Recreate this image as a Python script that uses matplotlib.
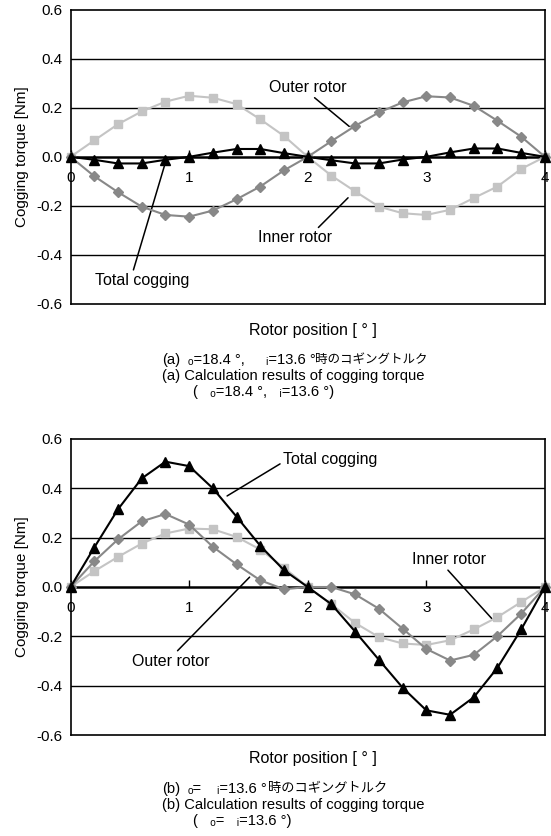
import matplotlib
matplotlib.use("Agg")
import matplotlib.pyplot as plt
import numpy as np

plt.rcParams['font.family'] = ['Liberation Sans', 'DejaVu Sans', 'Noto Sans CJK JP']

# rotor position [deg]
pos = [0.0, 0.2, 0.4, 0.6, 0.8, 1.0, 1.2, 1.4, 1.6, 1.8, 2.0,
       2.2, 2.4, 2.6, 2.8, 3.0, 3.2, 3.4, 3.6, 3.8, 4.0]

# (a) theta_o = 18.4, theta_i = 13.6
total_a = [0, -0.012, -0.027, -0.027, -0.012, 0, 0.017, 0.032, 0.032, 0.015, 0,
           -0.014, -0.027, -0.027, -0.011, 0, 0.018, 0.034, 0.034, 0.016, 0]
outer_a = [0, -0.079, -0.144, -0.203, -0.237, -0.244, -0.219, -0.173, -0.121, -0.055, 0,
           0.064, 0.126, 0.181, 0.222, 0.247, 0.242, 0.208, 0.147, 0.082, 0]
inner_a = [0, 0.067, 0.133, 0.185, 0.225, 0.249, 0.241, 0.215, 0.153, 0.085, 0,
           -0.077, -0.141, -0.203, -0.230, -0.237, -0.216, -0.168, -0.121, -0.049, 0]

# (b) theta_o = theta_i = 13.6
total_b = [0, 0.16, 0.315, 0.44, 0.508, 0.49, 0.40, 0.285, 0.167, 0.068, 0,
           -0.07, -0.181, -0.295, -0.408, -0.50, -0.518, -0.447, -0.327, -0.172, 0]
outer_b = [0, 0.104, 0.193, 0.266, 0.296, 0.253, 0.163, 0.092, 0.027, -0.009, 0,
           0.0, -0.03, -0.088, -0.169, -0.251, -0.298, -0.275, -0.199, -0.108, 0]
inner_b = [0, 0.064, 0.122, 0.176, 0.217, 0.237, 0.234, 0.203, 0.152, 0.078, 0,
           -0.07, -0.146, -0.203, -0.229, -0.235, -0.216, -0.172, -0.122, -0.061, 0]

yticks = [-0.6, -0.4, -0.2, 0.0, 0.2, 0.4, 0.6]
ytick_labels = ["-0.6", "-0.4", "-0.2", "0.0", "0.2", "0.4", "0.6"]
xticks = [0, 1, 2, 3, 4]

INNER_C = "#c4c4c4"
OUTER_C = "#888888"
FS = 11


def draw_panel(ax, total, outer, inner):
    ax.set_xlim(0, 4)
    ax.set_ylim(-0.6, 0.6)
    for s in ax.spines.values():
        s.set_color("black")
        s.set_linewidth(1.2)
    # x axis crosses at zero, frame bottom drawn separately
    ax.spines["bottom"].set_position(("data", 0))
    ax.spines["bottom"].set_linewidth(1.8)
    ax.plot([0, 1], [0, 0], transform=ax.transAxes, color="black", lw=1.2,
            clip_on=False, zorder=6)
    for v in [-0.4, -0.2, 0.2, 0.4]:
        ax.axhline(v, color="black", lw=1.0, zorder=1)
    ax.set_yticks(yticks)
    ax.set_yticklabels(ytick_labels, fontsize=FS)
    ax.tick_params(axis="y", length=0, pad=6)
    ax.set_xticks(xticks)
    ax.set_xticklabels([str(t) for t in xticks], fontsize=FS)
    ax.tick_params(axis="x", direction="in", length=5, width=1.0, pad=10)
    ax.plot(pos, inner, color=INNER_C, lw=1.5, marker="s", ms=5.5,
            mec=INNER_C, mfc=INNER_C, zorder=3, clip_on=False)
    ax.plot(pos, outer, color=OUTER_C, lw=1.5, marker="D", ms=5.0,
            mec=OUTER_C, mfc=OUTER_C, zorder=4, clip_on=False)
    ax.plot(pos, total, color="black", lw=1.5, marker="^", ms=7.5,
            mec="black", mfc="black", zorder=5, clip_on=False)
    ax.set_ylabel("Cogging torque [Nm]", fontsize=FS, labelpad=5)


fig = plt.figure(figsize=(5.51, 8.36), dpi=100)
ax1 = fig.add_axes([0.128, 0.6364, 0.861, 0.352])
ax2 = fig.add_axes([0.128, 0.1208, 0.861, 0.3541])

draw_panel(ax1, total_a, outer_a, inner_a)
draw_panel(ax2, total_b, outer_b, inner_b)

AFS = 11.5
line = dict(arrowstyle="-", color="black", lw=1.1, shrinkA=0, shrinkB=0)

# annotations (a)
ax1.annotate("Outer rotor", xy=(2.35, 0.124), xytext=(1.67, 0.283),
             fontsize=AFS, ha="left", va="center",
             arrowprops=dict(line, relpos=(0.55, 0.0)))
ax1.annotate("Inner rotor", xy=(2.34, -0.167), xytext=(1.58, -0.33),
             fontsize=AFS, ha="left", va="center",
             arrowprops=dict(line, relpos=(0.78, 1.0)))
ax1.annotate("Total cogging", xy=(0.81, -0.007), xytext=(0.205, -0.503),
             fontsize=AFS, ha="left", va="center",
             arrowprops=dict(line, relpos=(0.4, 1.0)))

# annotations (b)
ax2.annotate("Total cogging", xy=(1.32, 0.369), xytext=(1.79, 0.515),
             fontsize=AFS, ha="left", va="center",
             arrowprops=dict(line, relpos=(0.0, 0.35)))
ax2.annotate("Inner rotor", xy=(3.55, -0.127), xytext=(2.88, 0.11),
             fontsize=AFS, ha="left", va="center",
             arrowprops=dict(line, relpos=(0.45, 0.0)))
ax2.annotate("Outer rotor", xy=(1.51, 0.04), xytext=(0.52, -0.3),
             fontsize=AFS, ha="left", va="center",
             arrowprops=dict(line, relpos=(0.55, 1.0)))

# x labels and captions
W, H = 551.0, 836.0
CFS = 10.6


def ftext(px, py, s, fs=CFS, ha="left"):
    fig.text(px / W, 1 - py / H, s, fontsize=fs, ha=ha, va="center")


ftext(313, 331, "Rotor position [ ° ]", fs=11.5, ha="center")
ftext(162, 360, "(a)")
ftext(188, 360, "ₒ=18.4 °,")
ftext(266, 360, "ᵢ=13.6 °")
ftext(315, 360, "時のコギングトルク", fs=9)
ftext(162, 376, "(a) Calculation results of cogging torque")
ftext(193, 392, "(   ₒ=18.4 °,   ᵢ=13.6 °)")

ftext(313, 759, "Rotor position [ ° ]", fs=11.5, ha="center")
ftext(162, 789, "(b)")
ftext(188, 789, "ₒ=")
ftext(217, 789, "ᵢ=13.6 °")
ftext(268, 789, "時のコギングトルク", fs=9.5)
ftext(162, 805, "(b) Calculation results of cogging torque")
ftext(193, 821, "(   ₒ=   ᵢ=13.6 °)")

fig.savefig("out.png", dpi=100)
